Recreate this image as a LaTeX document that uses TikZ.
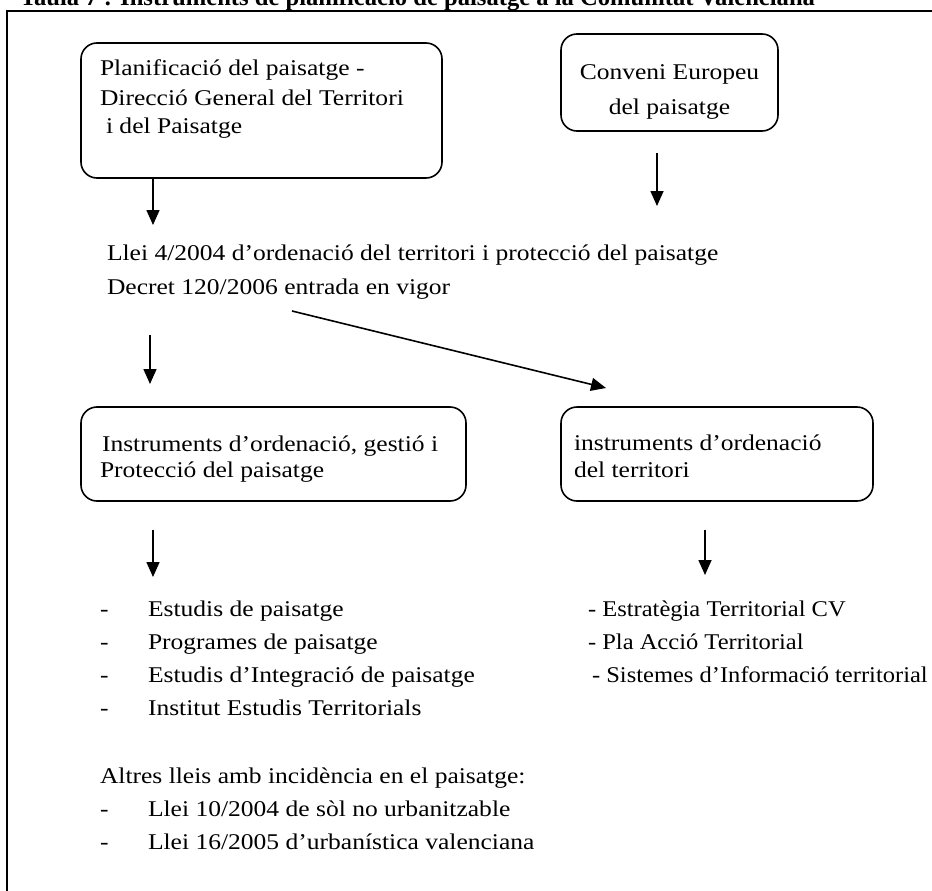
\documentclass[tikz,border=0pt]{standalone}
\usepackage{fontspec}
\setmainfont{Liberation Serif}
\newfontfamily\bodyfont[FakeStretch=1.135]{Liberation Serif}
\newfontfamily\sidefont[FakeStretch=1.09]{Liberation Serif}
\usetikzlibrary{arrows.meta}
\begin{document}
\begin{tikzpicture}[x=1pt,y=-1pt,
  every node/.style={inner sep=0pt, outer sep=0pt},
  txt/.style={font=\bodyfont\fontsize{22.5}{25}\selectfont, anchor=base west},
  sidetxt/.style={font=\sidefont\fontsize{22.5}{25}\selectfont, anchor=base west},
  card/.style={draw, line width=1.6pt, rounded corners=16pt, anchor=north west},
  arr/.style={line width=1.6pt, -{Triangle[length=15pt,width=13pt]}}]
\useasboundingbox (0,0) rectangle (932,891);
\clip (0,0) rectangle (932,891);
\fill[white] (0,0) rectangle (932,891);

% caption above the frame
\node[anchor=base west, font=\bfseries\fontsize{24.6}{25}\selectfont] (title) at (20,5.5)
  {Taula 7 : Instruments de planificació de paisatge a la Comunitat Valenciana};
\draw[line width=1.8pt] (7,11) rectangle (980,930);

% boxes
\node[card, minimum width=361pt, minimum height=135pt] (b1) at (81,43) {};
\node[card, minimum width=217pt, minimum height=97pt]  (b2) at (561,34) {};
\node[card, minimum width=385pt, minimum height=94pt]  (b3) at (81,407) {};
\node[card, minimum width=312pt, minimum height=94pt]  (b4) at (561,407) {};

% box texts
\node[txt] (b1a) at (100,76)  {Planificació del paisatge -};
\node[txt] (b1b) at (100,105) {Direcció General del Territori};
\node[txt] (b1c) at (106,133) {i del Paisatge};
\node[txt, anchor=base] (b2a) at (b2.center |- 0,80)  {Conveni Europeu};
\node[txt, anchor=base] (b2b) at (b2.center |- 0,114) {del paisatge};
\node[txt] (b3a) at (102,451) {Instruments d’ordenació, gestió i};
\node[txt] (b3b) at (100,477) {Protecció del paisatge};
\node[txt] (b4a) at (574,450) {instruments d’ordenació};
\node[txt] (b4b) at (574,477) {del territori};

% laws
\node[txt] (llei) at (107,260) {Llei 4/2004 d’ordenació del territori i protecció del paisatge};
\node[txt] (decret) at (107,294) {Decret 120/2006 entrada en vigor};

% arrow ends
\coordinate (t1) at (153,225);
\coordinate (s2) at (657,153);
\coordinate (t2) at (657,206);
\coordinate (s3) at (150,335);
\coordinate (t3) at (150,384);
\coordinate (sd) at (292,311);
\coordinate (td) at (606,388);
\coordinate (s4) at (153,530);
\coordinate (t4) at (153,577);
\coordinate (s5) at (705,530);
\coordinate (t5) at (705,575);

\draw[arr] (b1.south -| t1) -- (t1);
\draw[arr] (s2) -- (t2);
\draw[arr] (s3) -- (t3);
\draw[arr] (sd) -- (td);
\draw[arr] (s4) -- (t4);
\draw[arr] (s5) -- (t5);

% landscape instruments
\node[txt] (d1) at (100,616) {-};
\node[txt] (l1) at (148,616) {Estudis de paisatge};
\node[txt] (d2) at (100,649) {-};
\node[txt] (l2) at (148,649) {Programes de paisatge};
\node[txt] (d3) at (100,682) {-};
\node[txt] (l3) at (148,682) {Estudis d’Integració de paisatge};
\node[txt] (d4) at (100,715) {-};
\node[txt] (l4) at (148,715) {Institut Estudis Territorials};

% territorial instruments
\node[sidetxt] (r1) at (588,616) {- Estratègia Territorial CV};
\node[sidetxt] (r2) at (588,649) {- Pla Acció Territorial};
\node[sidetxt] (r3) at (592,682) {- Sistemes d’Informació territorial};

% other laws
\node[txt] (altres) at (100,783) {Altres lleis amb incidència en el paisatge:};
\node[txt] (d5) at (100,816) {-};
\node[txt] (o1) at (148,816) {Llei 10/2004 de sòl no urbanitzable};
\node[txt] (d6) at (100,849) {-};
\node[txt] (o2) at (148,849) {Llei 16/2005 d’urbanística valenciana};
\end{tikzpicture}
\end{document}
